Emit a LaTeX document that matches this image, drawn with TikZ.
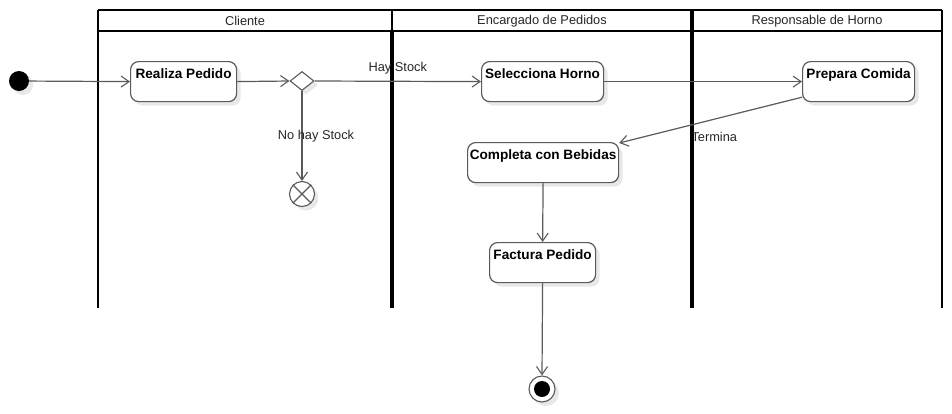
\documentclass[tikz,border=0pt]{standalone}
\usepackage{fontspec}
\setmainfont{Liberation Sans}
\usetikzlibrary{arrows.meta,shapes.geometric,shadows}
\definecolor{ln}{HTML}{5A5A5A}
\tikzset{
  shad/.style={drop shadow={shadow xshift=4pt,shadow yshift=-4pt,fill=black!9,opacity=1}},
  act/.style={draw=ln,line width=1.2pt,rounded corners=8pt,fill=white,shad,
    font=\fontsize{13.6}{15}\selectfont\bfseries,minimum height=40pt,
    text height=13pt,text depth=19pt,inner ysep=4pt,inner xsep=2pt,anchor=north west},
  flow/.style={draw=ln,line width=1.2pt,-{Straight Barb[length=8pt,width=11pt,line width=1.1pt]}},
  lbl/.style={font=\fontsize{12.8}{14}\selectfont,text=black!85},
  lane/.style={line width=2pt,black},
  lanethick/.style={line width=3.5pt,black}
}
\begin{document}
\begin{tikzpicture}[x=1pt,y=-1pt]
\useasboundingbox (0,0) rectangle (952,413);
% swimlanes
\draw[lane] (98,10) -- (942,10);
\draw[lane] (98,31) -- (942,31);
\draw[lane] (98,10) -- (98,308);
\draw[lane] (942,10) -- (942,308);
\draw[lane] (392,10) -- (392,31);
\draw[lanethick] (392,31) -- (392,308);
\draw[lanethick] (692,10) -- (692,308);
\node[lbl] (hc) at (245,21) {Cliente};
\node[lbl] (he) at (542,21) {Encargado de Pedidos};
\node[lbl] (hr) at (817,21) {Responsable de Horno};
% nodes
\node[circle,fill=black,minimum size=20pt,inner sep=0,shad] (init) at (19,81) {};
\node[act,minimum width=106pt] (rp) at (130,61) {Realiza Pedido};
\node[diamond,draw=ln,line width=1.1pt,fill=white,minimum width=24pt,minimum height=19pt,inner sep=0,shad] (dec) at (302,81) {};
\node[circle,draw=ln,line width=1.1pt,fill=white,minimum size=25pt,inner sep=0,shad] (ff) at (302,194) {};
\draw[ln,line width=1.1pt] (ff.north west) -- (ff.south east) (ff.north east) -- (ff.south west);
\node[act,minimum width=122pt] (sh) at (481,61) {Selecciona Horno};
\node[act,minimum width=112pt] (pc) at (802,61) {Prepara Comida};
\node[act,minimum width=151pt] (cb) at (467,142) {Completa con Bebidas};
\node[act,minimum width=106pt] (fp) at (489,242) {Factura Pedido};
\node[circle,draw=ln,line width=1.1pt,fill=white,minimum size=26pt,inner sep=0,shad] (fin) at (542,389) {};
\node[circle,fill=black,minimum size=16pt,inner sep=0] (fini) at (fin.center) {};
% flows
\draw[flow] (init) -- (rp.west);
\draw[flow] (rp.east) -- (dec.west);
\draw[flow] (dec.east) -- node[lbl,pos=0.5,yshift=13pt] {Hay Stock} (sh.west);
\draw[flow] (dec.south) -- node[lbl,pos=0.5,xshift=14pt] {No hay Stock} (ff.north);
\draw[flow] (sh.east) -- (pc.west);
\draw[flow] ([yshift=5pt]pc.south west) -- node[lbl,pos=0.48,yshift=-18pt] {Termina} ([yshift=-1pt]cb.north east);
\draw[flow] (cb.south) -- (fp.north);
\draw[flow] (fp.south) -- (fin.north);
\end{tikzpicture}
\end{document}
